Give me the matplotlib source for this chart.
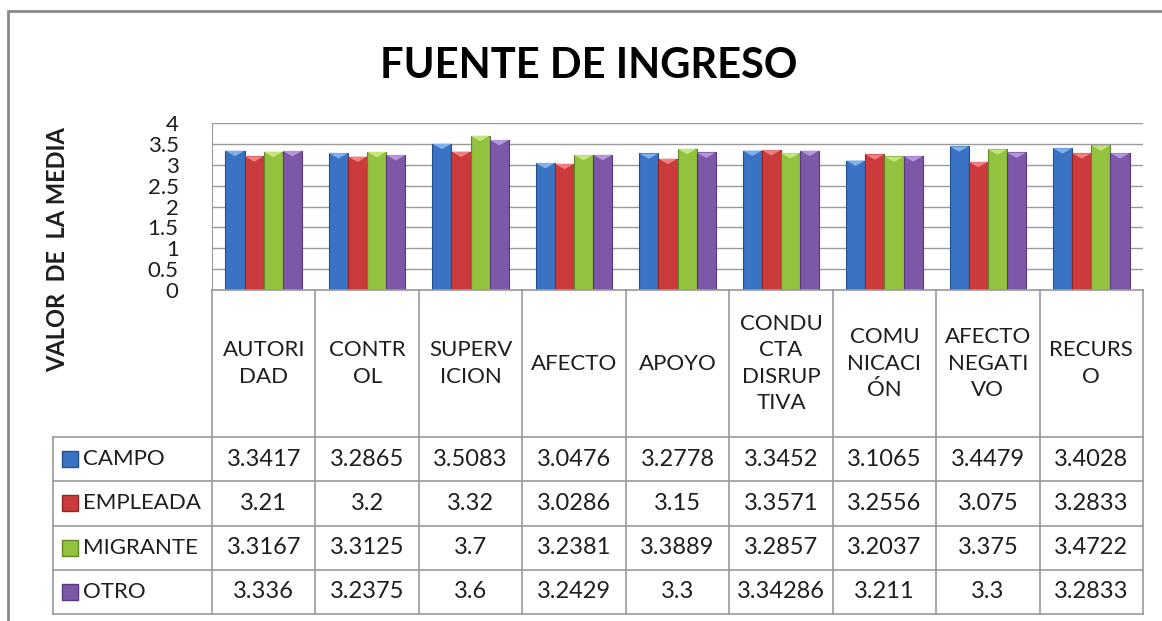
import matplotlib.pyplot as plt
import numpy as np
from matplotlib.patches import Rectangle, Polygon

categories = ["AUTORI\nDAD", "CONTR\nOL", "SUPERV\nICION", "AFECTO", "APOYO",
              "CONDU\nCTA\nDISRUP\nTIVA", "COMU\nNICACI\nÓN", "AFECTO\nNEGATI\nVO",
              "RECURS\nO"]
series_names = ["CAMPO", "EMPLEADA", "MIGRANTE", "OTRO"]
campo = [3.3417, 3.2865, 3.5083, 3.0476, 3.2778, 3.3452, 3.1065, 3.4479, 3.4028]
empleada = [3.21, 3.2, 3.32, 3.0286, 3.15, 3.3571, 3.2556, 3.075, 3.2833]
migrante = [3.3167, 3.3125, 3.7, 3.2381, 3.3889, 3.2857, 3.2037, 3.375, 3.4722]
otro = [3.336, 3.2375, 3.6, 3.2429, 3.3, 3.34286, 3.211, 3.3, 3.2833]
yticks = [0, 0.5, 1, 1.5, 2, 2.5, 3, 3.5, 4]

values = [campo, empleada, migrante, otro]
colors = ["#3a72c4", "#cc3b3b", "#92c23e", "#7d58a8"]
edges = ["#24508f", "#8f2525", "#62872a", "#563a7a"]
tops = ["#7fb2ec", "#ee8080", "#c4e67c", "#b496dc"]

plt.rcParams['font.family'] = ['Lato', 'DejaVu Sans']
txt = "#1e1e1e"
grid = "#9a9a9a"

W, H = 1162, 621
fig = plt.figure(figsize=(W / 100, H / 100), dpi=100)

def px(x0, y0, x1, y1):
    return [x0 / W, 1 - y1 / H, (x1 - x0) / W, (y1 - y0) / H]

# outer chart frame
fig.patches.append(Rectangle((8 / W, -0.1), 1.2, 1.1 - 11 / H, transform=fig.transFigure,
                             fill=False, edgecolor="#8a8a8a", linewidth=2))

fig.text(589 / W, 1 - 66 / H, "FUENTE DE INGRESO", ha="center", va="center",
         fontsize=30, fontweight="bold", color="black")

# bar area
ax = fig.add_axes(px(212, 123.3, 1143, 290))
x = np.arange(len(categories))
bw = 0.185
for i, vals in enumerate(values):
    bars = ax.bar(x + (i - 1.5) * bw, vals, bw, color=colors[i], edgecolor=edges[i],
                  linewidth=0.8, zorder=3)
    for b in bars:
        x0, x1, h = b.get_x(), b.get_x() + b.get_width(), b.get_height()
        ax.add_patch(Polygon([[x0, h], [x1, h], [(x0 + x1) / 2, h - 0.13]],
                             closed=True, color=tops[i], zorder=4, linewidth=0))
ax.set_xlim(-0.5, len(categories) - 0.5)
ax.set_ylim(0, 4)
ax.set_yticks(yticks)
ax.set_yticklabels([f"{t:g}" for t in yticks], fontsize=16, color=txt)
ax.tick_params(axis="y", length=0, pad=24)
ax.set_xticks([])
ax.yaxis.grid(True, color=grid, linewidth=1, zorder=0)
for s in ["right", "bottom", "top"]:
    ax.spines[s].set_visible(False)
ax.spines["left"].set_color(grid)

fig.text(58 / W, 1 - 250 / H, "VALOR  DE  LA MEDIA", rotation=90, ha="center",
         va="center", fontsize=17, fontweight="bold", color=txt)

# data table
tax = fig.add_axes(px(212, 290, 1143, 614))
header_h = 147
row_h = (614 - 290 - header_h) / 4
left = -2.04
tax.set_xlim(-0.5, len(categories) - 0.5)
tax.set_ylim(614 - 290, 0)
tax.axis("off")

lw = dict(color=grid, linewidth=1.2, clip_on=False)
tax.plot([-0.5, len(categories) - 0.5], [0, 0], **lw)
for k in range(5):
    y = header_h + k * row_h
    tax.plot([left, len(categories) - 0.5], [y, y], **lw)
for k in range(len(categories) + 1):
    tax.plot([k - 0.5, k - 0.5], [0, header_h + 4 * row_h], **lw)
tax.plot([left, left], [header_h, header_h + 4 * row_h], **lw)

for j, c in enumerate(categories):
    tax.text(j, header_h / 2, c, ha="center", va="center", fontsize=16,
             color=txt, linespacing=1.4)

for i, (name, vals) in enumerate(zip(series_names, values)):
    yc = header_h + (i + 0.5) * row_h
    tax.plot(left + 0.17, yc, marker="s", markersize=11, color=colors[i],
             markeredgecolor=edges[i], clip_on=False)
    tax.text(left + 0.29, yc, name, ha="left", va="center", fontsize=16,
             color=txt, clip_on=False)
    for j, v in enumerate(vals):
        tax.text(j, yc, f"{v:g}", ha="center", va="center", fontsize=17, color=txt)

fig.savefig("out.png", dpi=100)
